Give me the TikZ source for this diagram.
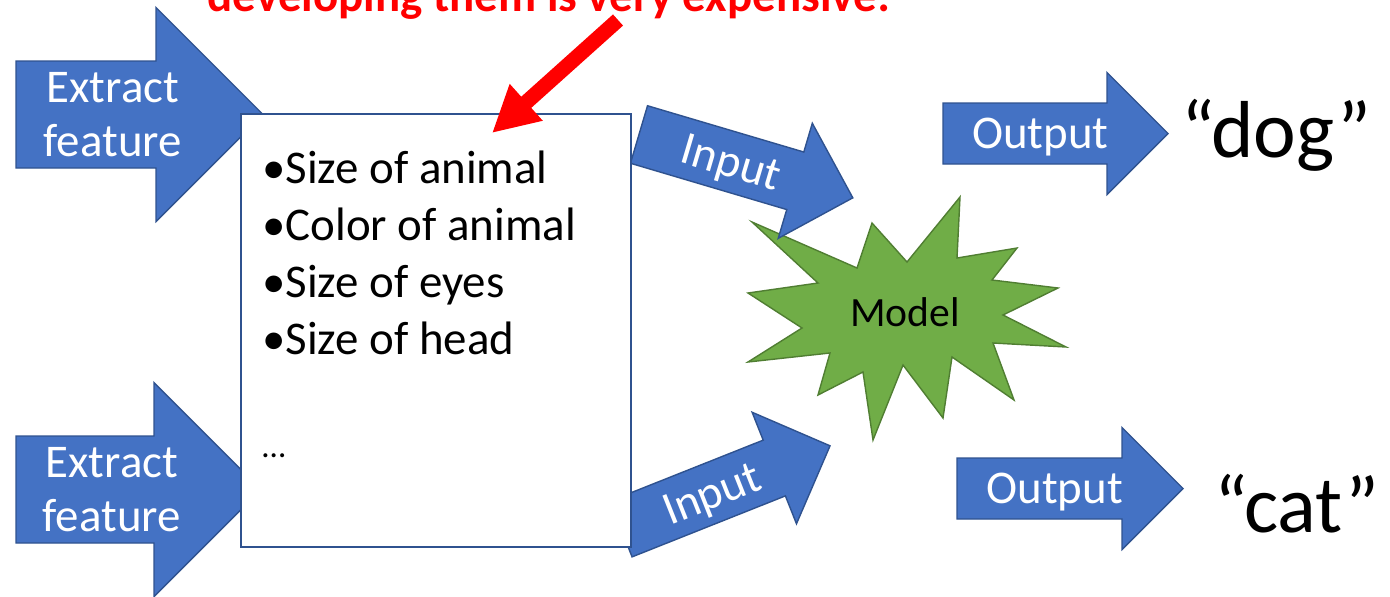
\documentclass[tikz,border=0pt]{standalone}
\usepackage{fontspec}
\setmainfont{Carlito}
\usetikzlibrary{arrows.meta}

\definecolor{arrowblue}{HTML}{4472C4}
\definecolor{arrowedge}{HTML}{2F528F}
\definecolor{modelgreen}{HTML}{70AD47}
\definecolor{modeledge}{HTML}{507E32}

% block arrow: [angle]{name}{tail middle}{length}{half body width}{label}
\newcommand{\blockarrow}[6][0]{%
    \begin{scope}[shift={#3}, rotate=#1]
        \draw[blockarrow] (0,#5) -- ({#4-2*#5},#5) -- ({#4-2*#5},{2*#5}) -- (#4,0)
            -- ({#4-2*#5},{-2*#5}) -- ({#4-2*#5},-#5) -- (0,-#5) -- cycle;
        \node[arrowlabel, rotate=#1] (#2) at ({#4/2-#5/2},0) {#6};
    \end{scope}}

\tikzset{
    blockarrow/.style={fill=arrowblue, draw=arrowedge, line width=0.8pt, line join=miter},
    arrowlabel/.style={text=white, inner sep=0pt, align=center, text depth=0pt,
        font=\fontsize{26.7}{31}\selectfont},
    featurebox/.style={draw=arrowedge, fill=white, line width=1.1pt, inner sep=0pt},
    listitem/.style={anchor=base west, inner sep=0pt, font=\fontsize{26.7}{32}\selectfont},
    hintarrow/.style={draw=red, line width=0.3cm, -{Triangle[length=0.92cm, width=0.92cm]}},
    hinttext/.style={anchor=base, inner sep=0pt, text=red,
        font=\fontsize{26.7}{32}\selectfont\bfseries},
    modelstar/.style={fill=modelgreen, draw=modeledge, line width=0.8pt, line join=miter},
    answer/.style={anchor=base west, inner sep=0pt, font=\fontsize{46}{52}\selectfont}
}

\begin{document}
\begin{tikzpicture}[x=0.02cm, y=-0.02cm]
    \clip (0,0) rectangle (1390,596);

    % Extract feature
    \blockarrow{extracttop}{(16,114.5)}{247}{53.5}{Extract\\feature}
    \blockarrow{extractbottom}{(16,489.5)}{245}{53.5}{Extract\\feature}

    % Model
    \begin{scope}[shift={(905,314)}]
        \draw[modelstar] (-153,-92) -- (-48,-46) -- (-33,-91) -- (2,-52) -- (55,-117)
            -- (52,-56) -- (112,-66) -- (87,-34) -- (153,-26) -- (98,1) -- (161,33)
            -- (88,29) -- (109,86) -- (47,43) -- (38,104) -- (-2,51) -- (-32,126)
            -- (-42,58) -- (-87,81) -- (-75,39) -- (-157,48) -- (-103,14) -- (-157,-21)
            -- (-87,-31) -- cycle;
    \end{scope}
    \node[anchor=base, inner sep=0pt, font=\fontsize{23.7}{28}\selectfont] (model) at (905,326) {Model};

    % Input
    \blockarrow[-16.5]{inputtop}{(639,134.5)}{223}{30}{Input}
    \blockarrow[21.7]{inputbottom}{(621,529)}{225}{30}{Input}

    % features
    \node[featurebox, anchor=north west, minimum width=7.8cm, minimum height=8.66cm]
        (features) at (240,113) {};
    \foreach \txt [count=\i from 0] in {Size of animal, Color of animal, Size of eyes, Size of head}
        \node[listitem] (item\i) at (262,{183+57*\i}) {•\txt};
    \node[listitem, font=\fontsize{19}{22}\selectfont] (itemmore) at (262,457) {…};

    % hint
    \node[hinttext] (hint) at (550,11) {developing them is very expensive!};
    \coordinate (hinttail) at (618,20);
    \coordinate (hinttip) at (492,133);
    \draw[hintarrow] (hinttail) -- (hinttip);

    % Output
    \blockarrow{outputdog}{(943,133.5)}{225}{30.5}{Output}
    \node[answer] (dog) at (1181,157) {“dog”};
    \blockarrow{outputcat}{(957,488.5)}{226}{30.5}{Output}
    \node[answer] (cat) at (1214,532) {“cat”};
\end{tikzpicture}
\end{document}
